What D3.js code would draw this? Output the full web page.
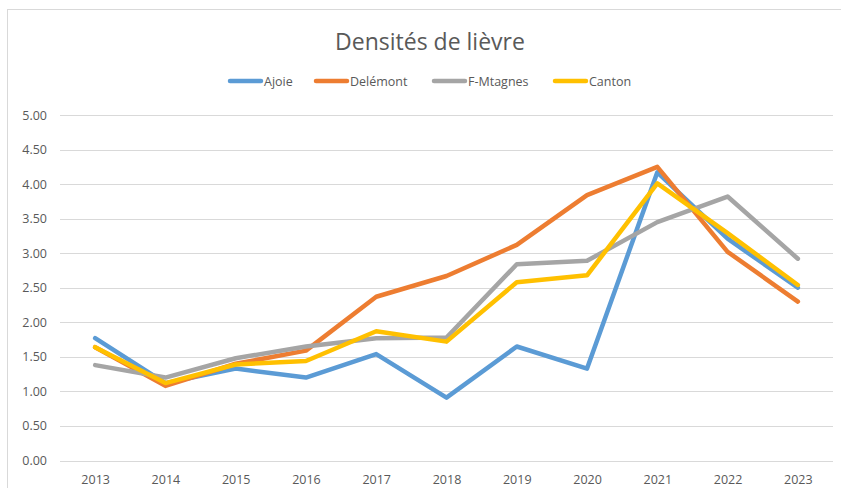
<!DOCTYPE html>
<html>
<head>
<meta charset="utf-8">
<script src="https://cdn.jsdelivr.net/npm/d3@7/dist/d3.min.js"></script>
<style>
  body { margin: 0; background: #fff; }
  svg text { font-family: "Open Sans", "Noto Sans", sans-serif; fill: #595959; }
</style>
</head>
<body>
<div id="chart"></div>
<script>
// Hare density per region, 2013–2023
const years = ['2013', '2014', '2015', '2016', '2017', '2018', '2019', '2020', '2021', '2022', '2023'];
const ajoie = [1.77, 1.12, 1.33, 1.20, 1.54, 0.91, 1.65, 1.33, 4.17, 3.21, 2.50];
const delemont = [1.64, 1.08, 1.40, 1.59, 2.37, 2.67, 3.12, 3.84, 4.25, 3.02, 2.30];
const fMtagnes = [1.38, 1.20, 1.48, 1.65, 1.77, 1.78, 2.84, 2.89, 3.45, 3.82, 2.92];
const canton = [1.64, 1.12, 1.39, 1.44, 1.87, 1.72, 2.58, 2.68, 4.01, 3.29, 2.54];
const seriesNames = ['Ajoie', 'Delémont', 'F-Mtagnes', 'Canton'];
const yTicks = [0, 0.5, 1, 1.5, 2, 2.5, 3, 3.5, 4, 4.5, 5];

const colors = ['#5B9BD5', '#ED7D31', '#A5A5A5', '#FFC000'];
const series = [ajoie, delemont, fMtagnes, canton];

const W = 841, H = 488;
const svg = d3.select('#chart').append('svg')
  .attr('width', W)
  .attr('height', H);

// chart frame
svg.append('rect')
  .attr('x', 7.5).attr('y', 9.5)
  .attr('width', W + 10).attr('height', H + 10)
  .attr('fill', 'none')
  .attr('stroke', '#d9d9d9');

const x = d3.scalePoint().domain(years).range([60, 833]).padding(0.5);
const y = d3.scaleLinear().domain([0, 5]).range([460.5, 115]);

// gridlines
svg.append('g')
  .selectAll('line')
  .data(yTicks)
  .join('line')
  .attr('x1', 60).attr('x2', 833)
  .attr('y1', d => Math.round(y(d)) + 0.5)
  .attr('y2', d => Math.round(y(d)) + 0.5)
  .attr('stroke', '#d9d9d9')
  .attr('stroke-width', 1);

// y labels
const yAxis = d3.axisLeft(y).tickValues(yTicks).tickFormat(d3.format('.2f')).tickSize(0).tickPadding(0);
svg.append('g')
  .attr('transform', 'translate(47,0)')
  .call(yAxis)
  .call(g => g.select('.domain').remove())
  .selectAll('text')
  .attr('font-size', 12.5);

// x labels
const xAxis = d3.axisBottom(x).tickSize(0).tickPadding(0);
svg.append('g')
  .attr('transform', 'translate(0,475)')
  .call(xAxis)
  .call(g => g.select('.domain').remove())
  .selectAll('text')
  .attr('font-size', 12.5);

svg.selectAll('g').attr('font-family', null);

// lines
const line = d3.line()
  .x((d, i) => x(years[i]))
  .y(d => y(d));

svg.append('g')
  .selectAll('path')
  .data(series)
  .join('path')
  .attr('d', line)
  .attr('fill', 'none')
  .attr('stroke', (d, i) => colors[i])
  .attr('stroke-width', 4.5)
  .attr('stroke-linejoin', 'round')
  .attr('stroke-linecap', 'round');

// title
svg.append('text')
  .attr('x', 430)
  .attr('y', 50)
  .attr('text-anchor', 'middle')
  .attr('font-size', 23)
  .text('Densités de lièvre');

// legend
const legendX = [228, 314, 432, 553];
const legend = svg.append('g')
  .selectAll('g')
  .data(seriesNames)
  .join('g')
  .attr('transform', (d, i) => `translate(${legendX[i]},81)`);

legend.append('line')
  .attr('x1', 2).attr('x2', 33)
  .attr('stroke', (d, i) => colors[i])
  .attr('stroke-width', 4.5)
  .attr('stroke-linecap', 'round');

legend.append('text')
  .attr('x', 36)
  .attr('y', 4.5)
  .attr('font-size', 12.5)
  .text(d => d);
</script>
</body>
</html>
